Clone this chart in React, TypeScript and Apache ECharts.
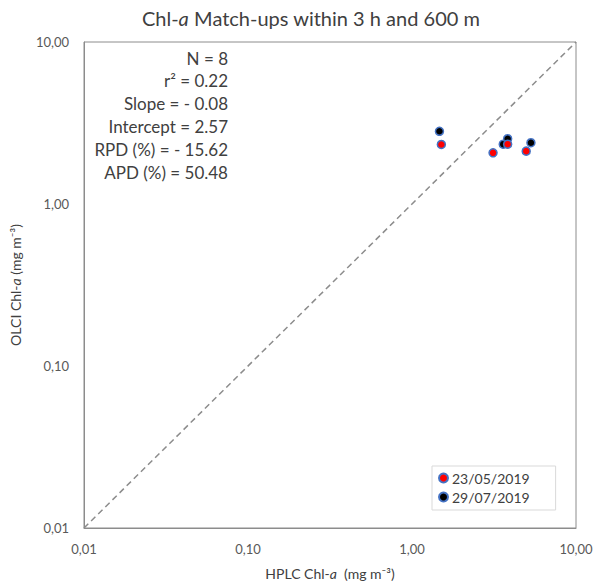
import React, { useEffect, useRef } from "react";
import * as echarts from "echarts";

const series1Name = "23/05/2019";
const series2Name = "29/07/2019";
const series1Points: [number, number][] = [
  [1.51, 2.33],
  [3.12, 2.07],
  [3.83, 2.34],
  [4.97, 2.12],
];
const series2Points: [number, number][] = [
  [1.47, 2.81],
  [3.6, 2.34],
  [3.83, 2.53],
  [5.31, 2.39],
];
const oneToOne: [number, number][] = [
  [0.01, 0.01],
  [10, 10],
];
const statsLines = [
  "N = 8",
  "r² = 0.22",
  "Slope = - 0.08",
  "Intercept = 2.57",
  "RPD (%) = - 15.62",
  "APD (%) = 50.48",
];
const axisMin = 0.01;
const axisMax = 10;

const FONT = "Lato, 'Open Sans', sans-serif";

function fmt(v: number) {
  return v.toFixed(2).replace(".", ",");
}

export default function App() {
  const ref = useRef<HTMLDivElement>(null);
  useEffect(() => {
    if (!ref.current) return;
    const chart = echarts.init(ref.current, undefined, { renderer: "svg" });
    const markerBorder = "#4472C4";
    chart.setOption({
      animation: false,
      backgroundColor: "#fff",
      textStyle: { fontFamily: FONT },
      title: {
        text: "Chl-{i|a} Match-ups within 3 h and 600 m",
        left: 306,
        textAlign: "center",
        top: 3,
        textStyle: {
          fontFamily: FONT,
          fontSize: 20,
          fontWeight: "normal",
          color: "#404040",
          rich: {
            i: { fontFamily: FONT, fontSize: 20, fontStyle: "italic", color: "#404040" },
          },
        },
      },
      grid: {
        left: 83,
        top: 42,
        right: 20,
        bottom: 54,
        show: true,
        borderColor: "#8c8c8c",
        borderWidth: 1,
        backgroundColor: "#fff",
      },
      legend: {
        orient: "vertical",
        left: 432,
        top: 466,
        itemWidth: 9,
        itemHeight: 9,
        itemGap: 5,
        padding: [5, 26, 6, 6],
        borderColor: "#d9d9d9",
        borderWidth: 1,
        backgroundColor: "#fff",
        icon: "circle",
        textStyle: { fontFamily: FONT, fontSize: 14, color: "#404040", padding: [0, 0, 0, -1] },
        data: [series1Name, series2Name],
      },
      xAxis: {
        type: "log",
        logBase: 10,
        min: axisMin,
        max: axisMax,
        name: "HPLC Chl-{i|a}  (mg m⁻³)",
        nameLocation: "middle",
        nameGap: 38,
        nameTextStyle: {
          fontFamily: FONT,
          fontSize: 14,
          color: "#404040",
          rich: { i: { fontFamily: FONT, fontSize: 14, fontStyle: "italic", color: "#404040" } },
        },
        axisLine: { show: true, lineStyle: { color: "#8c8c8c" } },
        axisTick: { show: false },
        splitLine: { show: false },
        axisLabel: {
          color: "#595959",
          fontSize: 13,
          fontFamily: FONT,
          margin: 14,
          formatter: (v: number) => fmt(v),
        },
      },
      yAxis: {
        type: "log",
        logBase: 10,
        min: axisMin,
        max: axisMax,
        name: "OLCI Chl-{i|a} (mg m⁻³)",
        nameLocation: "middle",
        nameRotate: 90,
        nameGap: 62,
        nameTextStyle: {
          fontFamily: FONT,
          fontSize: 14,
          color: "#404040",
          rich: { i: { fontFamily: FONT, fontSize: 14, fontStyle: "italic", color: "#404040" } },
        },
        axisLine: { show: true, lineStyle: { color: "#8c8c8c" } },
        axisTick: { show: false },
        splitLine: { show: false },
        axisLabel: {
          color: "#595959",
          fontSize: 13,
          fontFamily: FONT,
          margin: 15,
          formatter: (v: number) => fmt(v),
        },
      },
      graphic: statsLines.map((line, i) => ({
        type: "text",
        x: 228,
        y: 58 + i * 22.8,
        style: {
          text: line,
          align: "right",
          verticalAlign: "middle",
          fontFamily: FONT,
          fontSize: 17,
          fill: "#404040",
        },
        z: 10,
      })),
      series: [
        {
          type: "line",
          data: oneToOne,
          showSymbol: false,
          symbol: "none",
          lineStyle: { color: "#8c8c8c", type: [6, 4], width: 1.5 },
          silent: true,
          z: 1,
        },
        {
          name: series2Name,
          type: "scatter",
          data: series2Points,
          symbol: "circle",
          symbolSize: 8,
          itemStyle: { color: "#000000", borderColor: markerBorder, borderWidth: 1.5, opacity: 1 },
          z: 2,
        },
        {
          name: series1Name,
          type: "scatter",
          data: series1Points,
          symbol: "circle",
          symbolSize: 8,
          itemStyle: { color: "#ff0000", borderColor: markerBorder, borderWidth: 1.5, opacity: 1 },
          z: 3,
        },
      ],
    });
    return () => chart.dispose();
  }, []);
  return (
    <div
      ref={ref}
      style={{ position: "fixed", left: 0, top: 0, width: 596, height: 585 }}
    />
  );
}
